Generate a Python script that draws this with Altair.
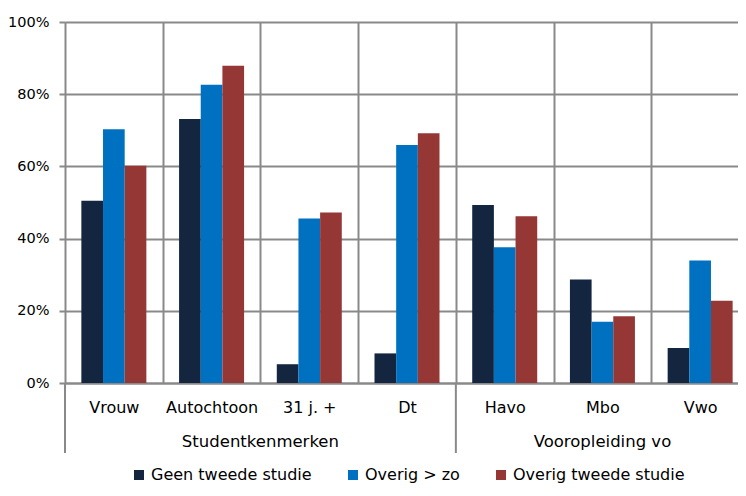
import altair as alt
import pandas as pd

categories = ["Vrouw", "Autochtoon", "31 j. +", "Dt", "Havo", "Mbo", "Vwo"]
category_groups = ["Studentkenmerken", "Studentkenmerken", "Studentkenmerken", "Studentkenmerken",
                   "Vooropleiding vo", "Vooropleiding vo", "Vooropleiding vo"]
series = ["Geen tweede studie", "Overig > zo", "Overig tweede studie"]
geen_tweede = [0.505, 0.731, 0.052, 0.082, 0.493, 0.287, 0.097]
overig_zo = [0.703, 0.826, 0.456, 0.659, 0.376, 0.170, 0.339]
overig_tweede = [0.602, 0.879, 0.472, 0.692, 0.462, 0.185, 0.228]
colors = ["#13253f", "#0070c0", "#953735"]
y_ticks = [0, 0.2, 0.4, 0.6, 0.8, 1.0]

GRAY = "#898989"
FONT = "DejaVu Sans"
W, H = 684, 361

bars = pd.DataFrame({
    "category": categories * 3,
    "series": [s for s in series for _ in categories],
    "value": geen_tweede + overig_zo + overig_tweede,
})

# group label anchors (middle of each group's categories)
grp_names = list(dict.fromkeys(category_groups))
even_rows, odd_rows, sep_rows = [], [], []
for g in grp_names:
    cats = [c for c, gg in zip(categories, category_groups) if gg == g]
    sep_rows.append({"category": cats[0]})
    n = len(cats)
    if n % 2 == 0:
        even_rows.append({"category": cats[n // 2], "group": g})
    else:
        odd_rows.append({"category": cats[n // 2], "group": g})
even_df = pd.DataFrame(even_rows)
odd_df = pd.DataFrame(odd_rows)
sep_df = pd.DataFrame(sep_rows)

xscale = alt.Scale(domain=categories, paddingInner=0, paddingOuter=0)
xaxis = alt.Axis(title=None, grid=True, tickBand="extent", ticks=False, tickSize=0,
                 domain=True, domainColor=GRAY, domainWidth=2, gridColor=GRAY, gridWidth=2,
                 labelFontSize=16, labelPadding=16, labelColor="#000000", labelAngle=0,
                 labelFont=FONT)
yaxis = alt.Axis(title=None, values=y_ticks, format=".0%", grid=True, gridColor=GRAY,
                 gridWidth=2, domain=False, ticks=True, tickSize=6, tickColor=GRAY,
                 tickWidth=2, labelFontSize=14.5, labelPadding=10, labelColor="#000000",
                 labelFont=FONT)


def X(band=0.5):
    return alt.X("category:N", sort=categories, scale=xscale, axis=xaxis, bandPosition=band)


bar_layer = alt.Chart(bars).mark_bar().encode(
    x=X(),
    xOffset=alt.XOffset("series:N", sort=series,
                        scale=alt.Scale(domain=series, paddingOuter=0.755, paddingInner=0)),
    y=alt.Y("value:Q", scale=alt.Scale(domain=[0, 1]), axis=yaxis),
    color=alt.Color("series:N", sort=series,
                    scale=alt.Scale(domain=series, range=colors),
                    legend=alt.Legend(title=None, orient="none", direction="horizontal",
                                      legendX=66, legendY=445, symbolType="square",
                                      symbolSize=100, symbolStrokeWidth=0,
                                      labelFontSize=16, labelFont=FONT, labelLimit=0,
                                      labelColor="#000000", labelOffset=4,
                                      columnPadding=33, padding=0)),
)

sep_layer = alt.Chart(sep_df).mark_rule(color=GRAY, strokeWidth=2).encode(
    x=X(0), y=alt.value(H), y2=alt.value(H + 70)
)

text_even = alt.Chart(even_df).mark_text(fontSize=16.5, font=FONT, color="#000000",
                                          baseline="middle", align="center").encode(
    x=X(0), y=alt.value(H + 59), text="group:N"
)
text_odd = alt.Chart(odd_df).mark_text(fontSize=16.5, font=FONT, color="#000000",
                                        baseline="middle", align="center").encode(
    x=X(0.5), y=alt.value(H + 59), text="group:N"
)

chart = alt.layer(bar_layer, sep_layer, text_even, text_odd).properties(
    width=W, height=H,
    autosize=alt.AutoSizeParams(type="none"),
    padding={"left": 57, "top": 14, "right": -11, "bottom": 103},
).configure_view(stroke=None).configure(font=FONT)

chart.save("out.html", embed_options={"renderer": "svg", "actions": False})
